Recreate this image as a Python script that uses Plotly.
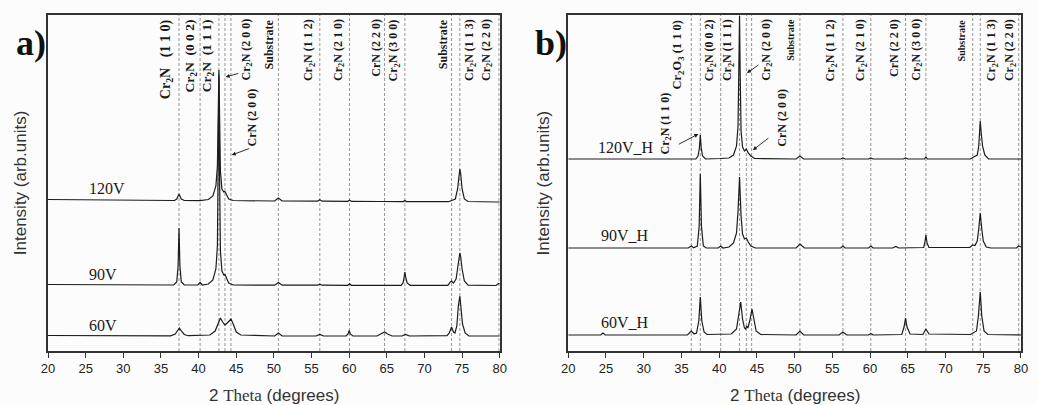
import plotly.graph_objects as go

# ---------------- data ----------------
# Panel a) as-deposited films : 2-theta (deg) vertices and intensity (arb. units, offset stacked)
a120_x = [20, 25, 30, 35, 36.8, 37.1, 37.4, 37.7, 38.1, 40.2, 41.3, 41.9, 42.3, 42.5, 42.62, 42.7, 42.78, 42.9,
          43.1, 43.35, 43.5, 43.7, 44.0, 44.6, 46, 50.1, 50.6, 51.1, 55.8, 56.1, 56.4, 59.8, 60.05, 60.3, 64,
          67.2, 67.4, 67.6, 73.2, 73.6, 74.1, 74.4, 74.6, 74.7, 74.8, 75.0, 75.3, 75.8, 79.6, 80]
a120_y = [151.5, 151, 150.8, 150.5, 150.5, 152, 157, 152, 150.5, 150.3, 151.5, 155, 165, 185, 240, 281, 240, 180,
          162, 159, 159.5, 157, 152, 150.5, 150.2, 150, 153, 150, 149.8, 151.2, 149.8, 149.7, 150.7, 149.6, 149.5,
          149.4, 150.5, 149.4, 149.3, 150.5, 152, 162, 178, 182, 178, 162, 152, 149.5, 149, 149]

a90_x = [20, 30, 36.7, 37.1, 37.28, 37.4, 37.52, 37.7, 38.1, 39.9, 40.2, 40.5, 41.3, 41.9, 42.3, 42.5, 42.62, 42.7,
         42.78, 42.9, 43.1, 43.35, 43.5, 43.7, 44.0, 44.6, 50.1, 50.6, 51.1, 55.8, 56.1, 56.4, 59.8, 60.05, 60.3,
         66.9, 67.15, 67.3, 67.4, 67.5, 67.7, 68.1, 73.1, 73.45, 73.6, 73.85, 74.2, 74.45, 74.6, 74.7, 74.8, 75.0,
         75.3, 75.8, 79.5, 79.85, 80]
a90_y = [66.5, 66.2, 66, 69, 85, 123, 85, 69, 66, 66, 68.5, 66, 67, 71, 82, 105, 180, 276,
         180, 100, 80, 76, 76.5, 73, 68, 66, 65.8, 68.5, 65.8, 65.8, 66.8, 65.8, 65.7, 67.2, 65.7,
         65.7, 68, 74, 79, 74, 68, 65.7, 65.6, 69, 70, 68, 72, 85, 95, 98, 95, 82,
         70, 65.8, 65.5, 67.5, 67]

a60_x = [20, 30, 36.3, 36.9, 37.2, 37.45, 37.7, 38.1, 38.6, 40.2, 41.5, 42.2, 42.6, 42.9, 43.2, 43.5, 43.8, 44.3,
         44.6, 45.0, 45.6, 50.1, 50.6, 51.1, 55.6, 56.1, 56.6, 59.6, 59.85, 60.0, 60.15, 60.5, 63.7, 64.3, 64.7,
         65.1, 65.7, 67.0, 67.5, 68, 73.0, 73.3, 73.6, 73.85, 74.05, 74.3, 74.5, 74.7, 74.85, 75.05, 75.4, 75.9, 80]
a60_y = [15.5, 15.3, 15.2, 17, 20, 23, 20, 16.5, 15.3, 15.5, 16, 20, 28, 33, 29, 26, 28, 32,
         27, 19, 16, 15, 18, 15, 15, 16.5, 15, 15, 17, 20.5, 17, 15, 15, 17, 19,
         17, 15, 15, 16.5, 15, 15.3, 18, 24, 19, 18, 25, 45, 55, 45, 27, 18, 15, 15]

# Panel b) annealed films
b120_x = [20, 30, 36.9, 37.2, 37.38, 37.5, 37.62, 37.8, 38.2, 40.2, 41.3, 41.9, 42.3, 42.5, 42.62, 42.7, 42.78,
          42.9, 43.1, 43.35, 43.6, 43.85, 44.2, 44.7, 50.2, 50.7, 51.2, 56.1, 56.4, 56.7, 59.8, 60.1, 60.4, 64.4,
          64.7, 65.0, 67.2, 67.4, 67.6, 73.3, 73.6, 74.2, 74.4, 74.5, 74.6, 74.7, 74.9, 75.2, 75.7, 80]
b120_y = [192, 192, 192, 195, 203, 216, 203, 195, 192, 192.5, 193, 196, 205, 225, 280, 335, 280,
          220, 204, 200, 202, 198, 195, 192.5, 192, 195, 192, 192, 193, 192, 192, 193, 192, 192,
          193, 192, 192, 194, 192, 192, 193.5, 196, 205, 220, 230, 220, 205, 196, 192, 192]

b90_x = [20, 30, 35.9, 36.3, 36.6, 37.1, 37.35, 37.5, 37.65, 37.9, 38.3, 39.9, 40.2, 40.5, 41.3, 41.9, 42.3, 42.5,
         42.7, 42.9, 43.1, 43.35, 43.6, 43.85, 44.2, 44.8, 50.2, 50.7, 51.3, 56.1, 56.4, 56.7, 59.8, 60.1, 60.4,
         63.0, 63.4, 63.8, 67.1, 67.25, 67.4, 67.55, 67.8, 73.2, 73.6, 73.9, 74.2, 74.4, 74.6, 74.8, 75.0, 75.4,
         76, 79.4, 79.7, 80]
b90_y = [103, 103, 103, 105, 103.2, 105, 125, 177, 125, 105, 103, 103, 105, 103, 104, 108, 118, 140,
         174, 135, 117, 112, 113, 109, 105, 103, 103, 107, 103, 103, 105, 103, 103, 105, 103,
         103, 104.5, 103, 103.5, 108, 116, 108, 103.5, 103.5, 106, 105.5, 110, 122, 138, 122, 110, 104,
         103, 103, 105, 104]

b60_x = [20, 24.3, 24.6, 24.9, 35.8, 36.3, 36.7, 37.0, 37.3, 37.5, 37.7, 38.0, 38.4, 40.2, 41.6, 42.3, 42.6, 42.85,
         43.1, 43.35, 43.5, 43.65, 43.8, 44.05, 44.35, 44.6, 44.9, 45.5, 50.2, 50.7, 51.2, 55.9, 56.4, 56.9, 59.8,
         60.1, 60.4, 64.2, 64.5, 64.7, 64.9, 65.3, 67.0, 67.4, 67.8, 73.3, 73.6, 74.1, 74.35, 74.6, 74.8, 75.1,
         75.6, 80]
b60_y = [16, 16, 18, 16, 16, 20, 17, 18, 30, 54, 30, 19, 16.5, 17, 17, 22, 35, 49,
         32, 23, 22, 25, 23, 30, 42, 30, 20, 16.5, 16, 20, 16, 16, 19, 16, 16,
         17.5, 16, 16.5, 24, 33, 24, 17, 16.5, 22, 17, 16.5, 18, 20, 35, 59, 35, 20,
         16.5, 16]

# reference (dashed) line positions, 2-theta
a_lines = [37.4, 40.2, 42.7, 43.5, 44.3, 50.6, 56.1, 60.05, 64.7, 67.4, 73.6, 74.7, 79.9]
b_lines = [36.3, 37.5, 40.2, 42.7, 43.6, 44.3, 50.7, 56.4, 60.1, 64.7, 67.4, 73.6, 74.6, 79.7]

# phase labels
SP = "\u00a0"
a_labels = ["Cr<sub>2</sub>N" + SP * 3 + "(1 1 0)", "Cr<sub>2</sub>N" + SP * 2 + "(0 0 2)",
            "Cr<sub>2</sub>N" + SP * 2 + "(1 1 1)", "Cr<sub>2</sub>N (2 0 0)", "Substrate",
            "Cr<sub>2</sub>N (1 1 2)", "Cr<sub>2</sub>N (2 1 0)", "CrN (2 2 0)", "Cr<sub>2</sub>N (3 0 0)",
            "Substrate", "Cr<sub>2</sub>N (1 1 3)", "Cr<sub>2</sub>N (2 2 0)"]
a_label_size = [14, 13.5, 13.5, 12, 12, 12, 12, 12, 12, 12, 12, 12]
a_label_x = [35.69, 38.99, 41.23, 46.37, 49.41, 54.68, 58.64, 63.52, 66.02, 72.49, 76.05, 78.29]
b_labels = ["Cr<sub>2</sub>O<sub>3</sub> (1 1 0)", "Cr<sub>2</sub>N (0 0 2)", "Cr<sub>2</sub>N (1 1 1)",
            "Cr<sub>2</sub>N (2 0 0)", "Substrate", "Cr<sub>2</sub>N (1 1 2)", "Cr<sub>2</sub>N (2 1 0)",
            "CrN (2 2 0)", "Cr<sub>2</sub>N (3 0 0)", "Substrate", "Cr<sub>2</sub>N (1 1 3)",
            "Cr<sub>2</sub>N (2 2 0)"]
b_label_size = [12.5, 12, 12, 12, 10, 12, 12, 12, 12, 10, 12, 12]
b_label_x = [34.61, 38.82, 41.18, 46.32, 49.34, 54.87, 58.82, 63.16, 66.18, 72.1, 76.18, 78.55]

x_ticks = [20, 25, 30, 35, 40, 45, 50, 55, 60, 65, 70, 75, 80]

# ---------------- figure ----------------
W, H = 1037, 405
ML, MR, MT, MB = 48, 9, 15, 54
PW = W - ML - MR
dom_a = [0, (503 - ML) / PW]
dom_b = [(572 - ML) / PW, 1]

LINE_C = "#1c1c1c"
fig = go.Figure()
for xs, ys in [(a120_x, a120_y), (a90_x, a90_y), (a60_x, a60_y)]:
    fig.add_trace(go.Scatter(x=xs, y=ys, mode="lines", line=dict(color=LINE_C, width=1.2),
                             xaxis="x", yaxis="y", showlegend=False, hoverinfo="skip"))
for xs, ys in [(b120_x, b120_y), (b90_x, b90_y), (b60_x, b60_y)]:
    fig.add_trace(go.Scatter(x=xs, y=ys, mode="lines", line=dict(color=LINE_C, width=1.2),
                             xaxis="x2", yaxis="y2", showlegend=False, hoverinfo="skip"))

shapes = []
for v in a_lines:
    shapes.append(dict(type="line", xref="x", yref="y domain", x0=v, x1=v, y0=0, y1=1,
                       line=dict(color="#7a7a7a", width=0.8, dash="3px,2px"), layer="below"))
for v in b_lines:
    shapes.append(dict(type="line", xref="x2", yref="y2 domain", x0=v, x1=v, y0=0, y1=1,
                       line=dict(color="#7a7a7a", width=0.8, dash="3px,2px"), layer="below"))

SERIF = "Liberation Serif, Times New Roman, serif"
SANS = "Liberation Sans, Arial, sans-serif"
ann = []
for t, x, s in zip(a_labels, a_label_x, a_label_size):
    ann.append(dict(x=x, y=333, xref="x", yref="y", text="<b>" + t + "</b>", textangle=-90,
                    showarrow=False, xanchor="center", yanchor="top", borderpad=0,
                    font=dict(family=SERIF, size=s, color="#1a1a1a")))
for t, x, s in zip(b_labels, b_label_x, b_label_size):
    ann.append(dict(x=x, y=333, xref="x2", yref="y2", text="<b>" + t + "</b>", textangle=-90,
                    showarrow=False, xanchor="center", yanchor="top", borderpad=0,
                    font=dict(family=SERIF, size=s, color="#1a1a1a")))
lab_font = dict(family=SERIF, size=12, color="#1a1a1a")
# lower labels with arrows
ann.append(dict(x=47.03, y=263, xref="x", yref="y", text="<b>CrN (2 0 0)</b>", textangle=-90,
                showarrow=False, xanchor="center", yanchor="top", borderpad=0, font=lab_font))
ann.append(dict(x=32.89, y=259, xref="x2", yref="y2", text="<b>Cr<sub>2</sub>N (1 1 0)</b>", textangle=-90,
                showarrow=False, xanchor="center", yanchor="top", borderpad=0, font=lab_font))
ann.append(dict(x=48.29, y=263, xref="x2", yref="y2", text="<b>CrN (2 0 0)</b>", textangle=-90,
                showarrow=False, xanchor="center", yanchor="top", borderpad=0, font=lab_font))
arrow_style = dict(showarrow=True, arrowhead=2, arrowsize=0.9, arrowwidth=0.9, arrowcolor="#1a1a1a", text="")
ann.append(dict(x=43.6, y=274, xref="x", yref="y", ax=14, ay=-4, **arrow_style))
ann.append(dict(x=44.4, y=196, xref="x", yref="y", ax=19, ay=-7, **arrow_style))
ann.append(dict(x=43.68, y=278, xref="x2", yref="y2", ax=13, ay=-9, **arrow_style))
ann.append(dict(x=44.47, y=201, xref="x2", yref="y2", ax=17, ay=-13, **arrow_style))
ann.append(dict(x=37.24, y=217, xref="x2", yref="y2", ax=-21, ay=11, **arrow_style))

# sample labels
samp_font = dict(family=SERIF, size=16, color="#1a1a1a")
for t, x, y in [("120V", 25.14, 163), ("90V", 25.14, 77), ("60V", 25.14, 26)]:
    ann.append(dict(x=x, y=y, xref="x", yref="y", text=t, showarrow=False, xanchor="left",
                    yanchor="middle", font=samp_font))
for t, x, y in [("120V_H", 23.68, 204), ("90V_H", 24.08, 116), ("60V_H", 24.08, 29)]:
    ann.append(dict(x=x, y=y, xref="x2", yref="y2", text=t, showarrow=False, xanchor="left",
                    yanchor="middle", font=samp_font))

# panel letters
for t, x in [("a)", (14 - ML) / PW), ("b)", (536 - ML) / PW)]:
    ann.append(dict(x=x, y=(351 - 43) / 336, xref="paper", yref="paper", text="<b>" + t + "</b>",
                    showarrow=False, xanchor="left", yanchor="middle",
                    font=dict(family=SERIF, size=36, color="#111")))
# axis titles
for x in [(20 - ML) / PW, (547 - ML) / PW]:
    ann.append(dict(x=x, y=0.5, xref="paper", yref="paper", text="Intensity (arb.units)", textangle=-90,
                    showarrow=False, xanchor="center", yanchor="middle",
                    font=dict(family=SANS, size=17, color="#333")))
xt = '2 <span style="font-family:Liberation Serif">Theta</span> (degrees)'
for x in [(275.5 - ML) / PW, (800 - ML) / PW]:
    ann.append(dict(x=x, y=-(395 - 351) / 336, xref="paper", yref="paper", text=xt,
                    showarrow=False, xanchor="center", yanchor="middle",
                    font=dict(family=SANS, size=17, color="#333")))

xaxis_common = dict(range=[20, 80], tickvals=x_ticks, ticks="outside", ticklen=5, tickwidth=1.2,
                    tickcolor="#333", showline=True, linecolor="#333", linewidth=1.5, mirror=True,
                    showgrid=False, zeroline=False, tickfont=dict(family=SANS, size=13, color="#222"))
yaxis_common = dict(range=[0, 336], showticklabels=False, ticks="", showline=True, linecolor="#333",
                    linewidth=1.5, mirror=True, showgrid=False, zeroline=False)

fig.update_layout(
    width=W, height=H, margin=dict(l=ML, r=MR, t=MT, b=MB),
    paper_bgcolor="#fdfcfc", plot_bgcolor="#fdfcfc",
    xaxis=dict(domain=dom_a, anchor="y", **xaxis_common),
    yaxis=dict(domain=[0, 1], anchor="x", **yaxis_common),
    xaxis2=dict(domain=dom_b, anchor="y2", **xaxis_common),
    yaxis2=dict(domain=[0, 1], anchor="x2", **yaxis_common),
    shapes=shapes, annotations=ann, showlegend=False,
)
fig.write_html("out.html", config={"displayModeBar": False},
               post_script="document.body.style.margin='0';document.body.style.overflow='hidden';")
